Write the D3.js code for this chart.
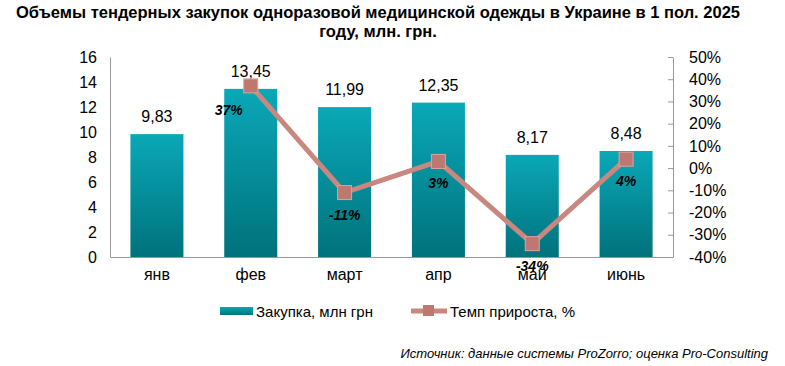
<!DOCTYPE html>
<meta charset="utf-8">
<script src="https://d3js.org/d3.v7.min.js"></script>
<style>
  body { margin: 0; background: #fff; }
  text { font-family: "Liberation Sans", Arial, sans-serif; }
</style>
<body>
<div id="my_dataviz"></div>
<script>
  // data
  var months = ["янв", "фев", "март", "апр", "май", "июнь"];
  var volume = [9.83, 13.45, 11.99, 12.35, 8.17, 8.48];
  var growth = [null, 37, -11, 3, -34, 4];
  var leftTicks = [0, 2, 4, 6, 8, 10, 12, 14, 16];
  var rightTicks = [-40, -30, -20, -10, 0, 10, 20, 30, 40, 50];

  var W = 785, H = 366;
  var margin = {top: 57, right: 112, bottom: 109, left: 110},
      width = W - margin.left - margin.right,
      height = H - margin.top - margin.bottom;

  var svg = d3.select("#my_dataviz").append("svg")
      .attr("width", W).attr("height", H);

  // title
  var title = svg.append("text")
      .attr("text-anchor", "middle")
      .style("font-family", "'Liberation Sans Narrow', 'Arial Narrow', sans-serif")
      .style("font-weight", "bold")
      .style("font-size", "16.5px");
  title.append("tspan").attr("x", 378).attr("y", 18)
      .text("Объемы тендерных закупок одноразовой медицинской одежды в Украине в 1 пол. 2025");
  title.append("tspan").attr("x", 378).attr("y", 37)
      .text("году, млн. грн.");

  var defs = svg.append("defs");
  var grad = defs.append("linearGradient").attr("id", "barGrad")
      .attr("x1", 0).attr("y1", 0).attr("x2", 0).attr("y2", 1);
  grad.append("stop").attr("offset", "0%").attr("stop-color", "#0aa8b8");
  grad.append("stop").attr("offset", "100%").attr("stop-color", "#00727c");

  var g = svg.append("g")
      .attr("transform", "translate(" + margin.left + "," + margin.top + ")");

  var x = d3.scaleBand().domain(months).range([0, width])
      .paddingInner(0.435).paddingOuter(0.2175);
  var y = d3.scaleLinear().domain([0, 16]).range([height, 0]);
  var y2 = d3.scaleLinear().domain([-40, 50]).range([height, 0]);

  // left axis
  var la = g.append("g")
      .call(d3.axisLeft(y).tickValues(leftTicks).tickSize(0).tickPadding(13));
  la.select(".domain").attr("stroke", "#999");
  la.selectAll("text").style("font-size", "16px").style("font-family", "'Liberation Sans', Arial, sans-serif").attr("fill", "#000");

  // right axis
  var ra = g.append("g")
      .attr("transform", "translate(" + width + ",0)")
      .call(d3.axisRight(y2).tickValues(rightTicks).tickSize(0).tickPadding(16)
        .tickFormat(function (d) { return d + "%"; }));
  ra.select(".domain").attr("stroke", "#999");
  ra.selectAll(".tick line").attr("x1", -5).attr("x2", 0).attr("stroke", "#999");
  ra.selectAll("text").style("font-size", "16px").style("font-family", "'Liberation Sans', Arial, sans-serif").attr("fill", "#000");

  // bars
  g.selectAll(".bar").data(volume).enter().append("rect")
      .attr("x", function (d, i) { return x(months[i]); })
      .attr("y", function (d) { return y(d); })
      .attr("width", x.bandwidth())
      .attr("height", function (d) { return height - y(d); })
      .attr("fill", "url(#barGrad)");

  // bottom axis
  var ba = g.append("g")
      .attr("transform", "translate(0," + height + ")")
      .call(d3.axisBottom(x).tickSize(0).tickPadding(12));
  ba.select(".domain").attr("stroke", "#999");
  ba.selectAll("text").style("font-size", "16px").style("font-family", "'Liberation Sans', Arial, sans-serif").attr("fill", "#000");

  // bar value labels
  g.selectAll(".val").data(volume).enter().append("text")
      .attr("x", function (d, i) { return x(months[i]) + x.bandwidth() / 2; })
      .attr("y", function (d) { return y(d) - 12; })
      .attr("text-anchor", "middle")
      .style("font-size", "16px")
      .text(function (d) { return d.toFixed(2).replace(".", ","); });

  // growth line
  var pts = growth.map(function (d, i) { return {m: months[i], v: d}; })
      .filter(function (d) { return d.v !== null; });
  var cx = function (d) { return x(d.m) + x.bandwidth() / 2; };

  g.append("path").datum(pts)
      .attr("fill", "none")
      .attr("stroke", "#c8877f")
      .attr("stroke-width", 5)
      .attr("d", d3.line().x(cx).y(function (d) { return y2(d.v); }));

  g.selectAll(".mk").data(pts).enter().append("rect")
      .attr("x", function (d) { return cx(d) - 7; })
      .attr("y", function (d) { return y2(d.v) - 7; })
      .attr("width", 14).attr("height", 14)
      .attr("fill", "#bd7870")
      .attr("stroke", "#d9a49d").attr("stroke-width", 1);

  g.selectAll(".pct").data(pts).enter().append("text")
      .attr("x", function (d, i) { return i === 0 ? cx(d) - 22 : cx(d); })
      .attr("y", function (d, i) { return i === 0 ? y2(d.v) + 29 : y2(d.v) + 27; })
      .attr("text-anchor", "middle")
      .style("font-size", "14px")
      .style("font-weight", "bold")
      .style("font-style", "italic")
      .text(function (d) { return d.v + "%"; });

  // legend
  var lg = svg.append("g");
  lg.append("rect").attr("x", 220).attr("y", 307).attr("width", 33).attr("height", 8)
      .attr("fill", "url(#barGrad)");
  lg.append("text").attr("x", 256).attr("y", 317).style("font-size", "15px")
      .text("Закупка, млн грн");
  lg.append("line").attr("x1", 411).attr("x2", 447).attr("y1", 311).attr("y2", 311)
      .attr("stroke", "#c8877f").attr("stroke-width", 5);
  lg.append("rect").attr("x", 423).attr("y", 305).attr("width", 11).attr("height", 11)
      .attr("fill", "#bd7870");
  lg.append("text").attr("x", 450).attr("y", 317).style("font-size", "15px")
      .text("Темп прироста, %");

  // source
  svg.append("text").attr("x", 768).attr("y", 358)
      .attr("text-anchor", "end")
      .style("font-size", "13px").style("font-style", "italic")
      .text("Источник: данные системы ProZorro; оценка Pro-Consulting");
</script>
</body>
